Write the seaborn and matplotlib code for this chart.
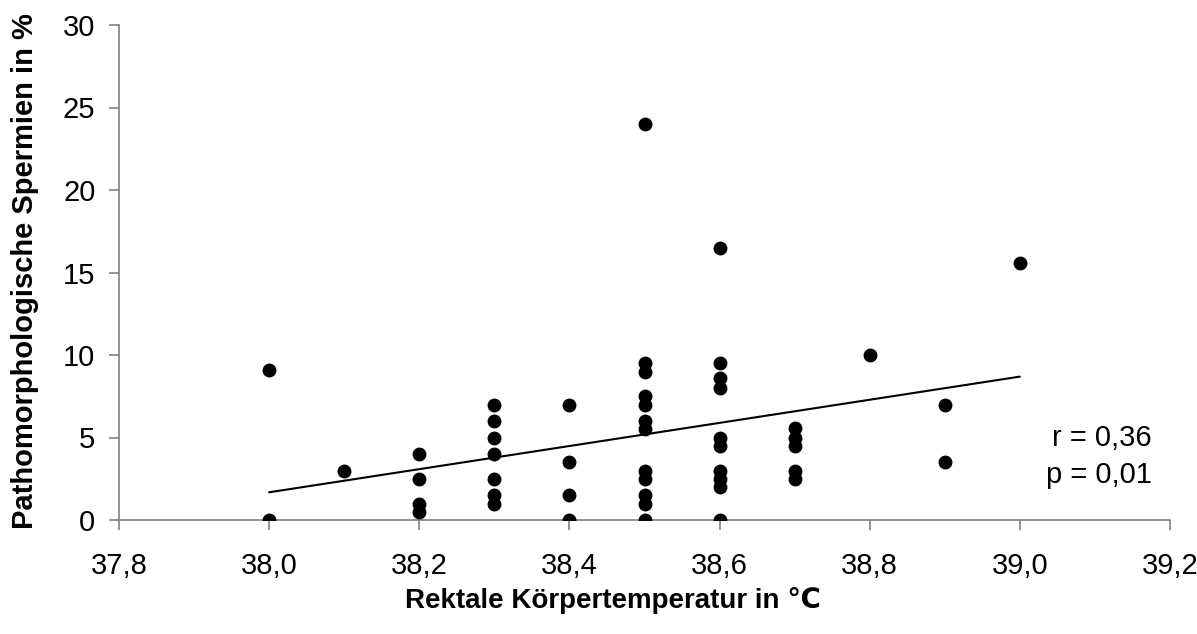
import matplotlib
matplotlib.use("Agg")
import matplotlib.pyplot as plt
import seaborn as sns
import numpy as np
import pandas as pd

# Data
temp = [38.0, 38.0,
        38.1,
        38.2, 38.2, 38.2, 38.2,
        38.3, 38.3, 38.3, 38.3, 38.3, 38.3, 38.3,
        38.4, 38.4, 38.4, 38.4,
        38.5, 38.5, 38.5, 38.5, 38.5, 38.5, 38.5, 38.5, 38.5, 38.5, 38.5, 38.5,
        38.6, 38.6, 38.6, 38.6, 38.6, 38.6, 38.6, 38.6, 38.6, 38.6,
        38.7, 38.7, 38.7, 38.7, 38.7,
        38.8,
        38.9, 38.9,
        39.0]
spermien = [9.1, 0.0,
            3.0,
            4.0, 2.5, 1.0, 0.5,
            7.0, 6.0, 5.0, 4.0, 2.5, 1.5, 1.0,
            7.0, 3.5, 1.5, 0.0,
            24.0, 9.5, 9.0, 7.5, 7.0, 6.0, 5.5, 3.0, 2.5, 1.5, 1.0, 0.0,
            16.5, 9.5, 8.6, 8.0, 5.0, 4.5, 3.0, 2.5, 2.0, 0.0,
            5.6, 5.0, 4.5, 3.0, 2.5,
            10.0,
            7.0, 3.5,
            15.6]
# Trend line end points
trend_x = [38.0, 39.0]
trend_y = [1.68, 8.69]

x_ticks = [37.8, 38.0, 38.2, 38.4, 38.6, 38.8, 39.0, 39.2]
x_ticklabels = ["37,8", "38,0", "38,2", "38,4", "38,6", "38,8", "39,0", "39,2"]
y_ticks = [0, 5, 10, 15, 20, 25, 30]
stats_text = ["r = 0,36", "p = 0,01"]

df = pd.DataFrame({"temp": temp, "sp": spermien})
trend = pd.DataFrame({"x": trend_x, "y": trend_y})

sns.set_style("ticks")
plt.rcParams['font.family'] = ['Liberation Sans', 'DejaVu Sans']
plt.rcParams['text.color'] = 'black'
plt.rcParams['axes.labelcolor'] = 'black'

fig = plt.figure(figsize=(11.97, 6.34), dpi=100)
ax = fig.add_axes([119/1197, 1 - 520/634, (1170 - 119)/1197, (520 - 25)/634])

sns.lineplot(data=trend, x="x", y="y", ax=ax, color="black", linewidth=1.5, zorder=2)
sns.scatterplot(data=df, x="temp", y="sp", ax=ax, s=100, color="black",
                edgecolor="black", linewidth=0, alpha=1, zorder=3)

ax.set_xlim(37.8, 39.2)
ax.set_ylim(0, 30)
ax.set_xticks(x_ticks)
ax.set_xticklabels(x_ticklabels)
ax.set_yticks(y_ticks)
ax.tick_params(axis="both", labelsize=21, labelcolor="#000000", color="#808080",
               length=7, width=1.2, direction="out")
ax.tick_params(axis="x", pad=16)
ax.tick_params(axis="y", pad=10)
for s in ["top", "right"]:
    ax.spines[s].set_visible(False)
for s in ["left", "bottom"]:
    ax.spines[s].set_color("#808080")
    ax.spines[s].set_linewidth(1.2)

ax.set_xlabel("Rektale Körpertemperatur in ℃", fontsize=20, fontweight="bold",
              va="center", color="black")
ax.xaxis.set_label_coords((613 - 119) / 1051, (520 - 601) / 495)
ax.set_ylabel("Pathomorphologische Spermien in %", fontsize=21, fontweight="bold",
              va="center", color="black")
ax.yaxis.set_label_coords((25 - 119) / 1051, (520 - 271) / 495)

ax.text(39.176, 5.0, stats_text[0], ha="right", va="center", fontsize=21, color="black")
ax.text(39.176, 2.75, stats_text[1], ha="right", va="center", fontsize=21, color="black")

fig.savefig("out.png", dpi=100)
